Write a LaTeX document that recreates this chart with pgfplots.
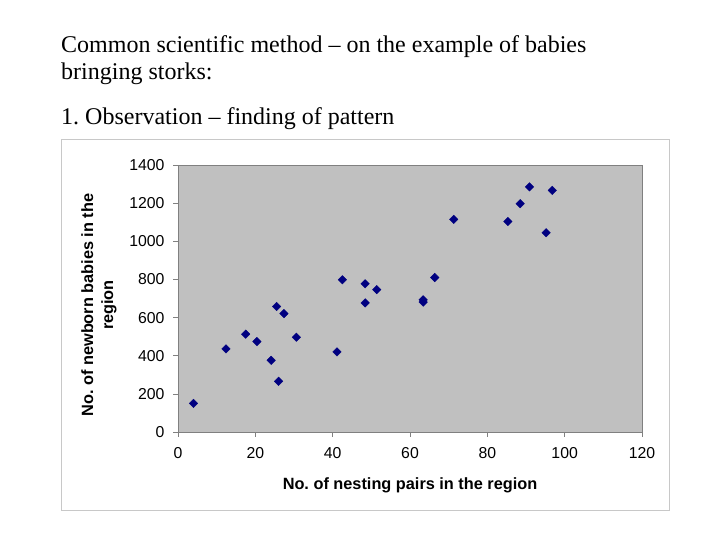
\documentclass[border=0pt]{standalone}
\usepackage{pgfplots}
\pgfplotsset{compat=1.18}
\usepackage{fontspec}
\setmainfont{Liberation Serif}
\newfontfamily\arial{Liberation Sans}
\definecolor{plotgray}{HTML}{C0C0C0}
\definecolor{framegray}{HTML}{C8C8C8}
\definecolor{axisgray}{HTML}{808080}
\definecolor{navy}{HTML}{000080}
\frenchspacing
\begin{document}
\begin{tikzpicture}
\path[fill=white] (0pt,0pt) rectangle (720pt,540pt);
% title
\node[anchor=base west, inner sep=0pt, font=\fontsize{24}{28}\selectfont] at (61pt,487pt) {Common scientific method -- on the example of babies};
\node[anchor=base west, inner sep=0pt, font=\fontsize{24}{28}\selectfont] at (61pt,460pt) {bringing storks:};
\node[anchor=base west, inner sep=0pt, font=\fontsize{24}{28}\selectfont] at (61pt,415pt) {1. Observation -- finding of pattern};
% frame
\draw[framegray, line width=1pt] (61.5pt,29pt) rectangle (669.5pt,400.5pt);
\begin{axis}[
  at={(178pt,108pt)}, anchor=south west,
  scale only axis, width=464pt, height=267pt,
  xmin=0, xmax=120, ymin=0, ymax=1400,
  xtick={0,20,...,120}, ytick={0,200,...,1400},
  axis background/.style={fill=plotgray},
  axis line style={axisgray, line width=0.8pt},
  tick style={axisgray, line width=0.6pt},
  tick align=outside, major tick length=5pt,
  xtick pos=bottom, ytick pos=left,
  ticklabel style={font=\arial\fontsize{15.8}{18}\selectfont, text=black},
  /pgf/number format/assume math mode=true,
  /pgf/number format/1000 sep={},
  xticklabel style={yshift=-7pt},
  yticklabel style={xshift=-5pt},
  clip=false,
]
\addplot[only marks, mark=square*, mark size=3pt, navy, mark options={fill=navy, draw=navy, rotate=45}] coordinates {
(4.0,150) (12.4,436) (17.5,513) (20.4,474) (24.1,376) (25.5,658) (26.0,266)
(27.4,621) (30.6,497) (41.1,420) (42.5,798) (48.4,777) (48.4,677) (51.4,747)
(63.4,693) (63.4,681) (66.4,810) (71.3,1115) (85.3,1104) (88.5,1197)
(90.9,1285) (95.2,1045) (96.8,1267)
};
\end{axis}
\node[rotate=90, align=center, font=\arial\bfseries\fontsize{16.3}{20}\selectfont] at (99pt,235pt) {No. of newborn babies in the\\region};
\node[font=\arial\bfseries\fontsize{16.3}{19}\selectfont] at (410pt,55pt) {No. of nesting pairs in the region};
\end{tikzpicture}
\end{document}
